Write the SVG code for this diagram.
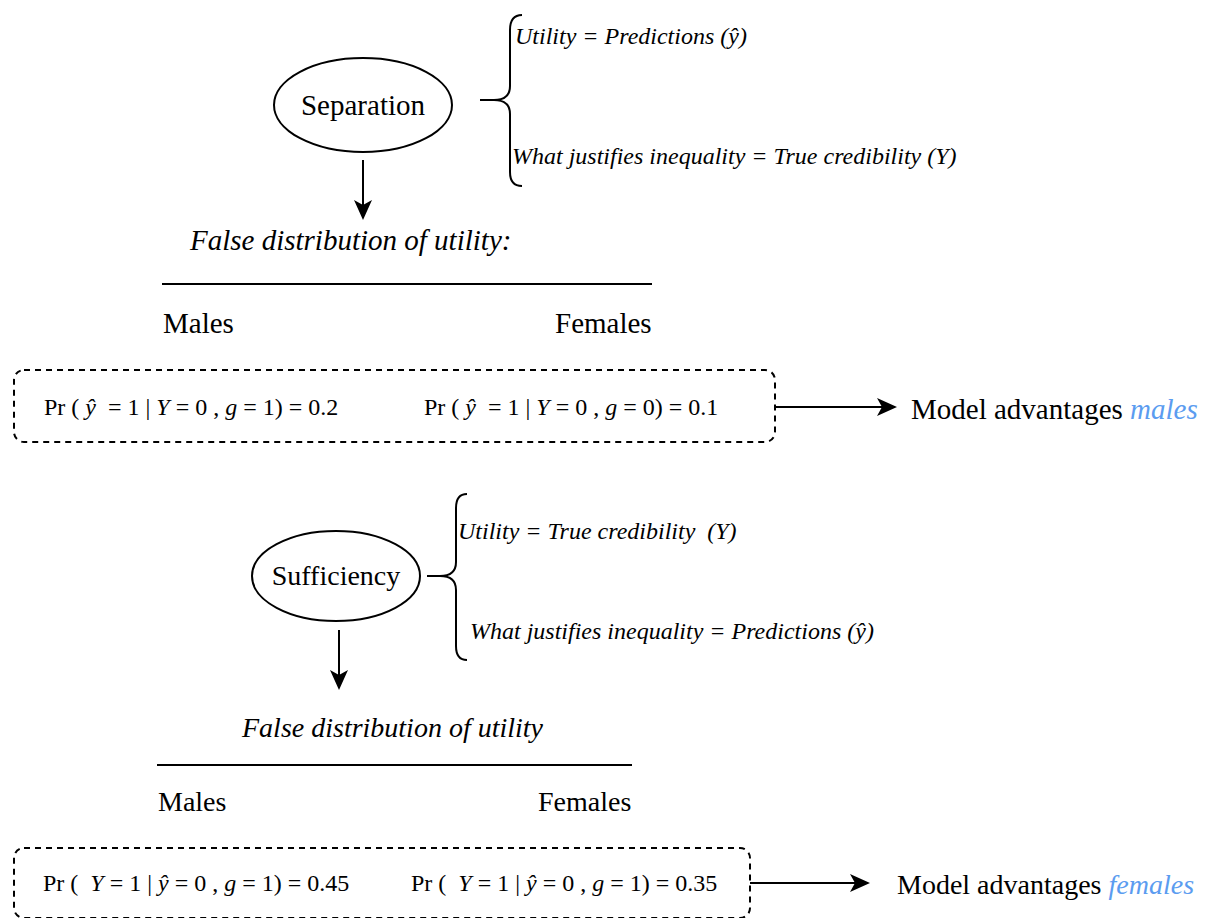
<svg xmlns="http://www.w3.org/2000/svg" width="1205" height="918" viewBox="0 0 1205 918">
  <style>
    .serif { font-family: "Liberation Serif", "Times New Roman", serif; fill: #000; white-space: pre; }
    .it { font-style: italic; }
    .node { fill: #fff; stroke: #000; stroke-width: 2; }
    .brace { fill: none; stroke: #000; stroke-width: 2; }
    .rule { stroke: #000; stroke-width: 2; }
    .box { fill: none; stroke: #000; stroke-width: 2; stroke-dasharray: 6 5; }
    .conn { stroke: #000; stroke-width: 2; fill: none; marker-end: url(#arrow); }
    .blue { fill: #5b9cf0; }
  </style>
  <defs>
    <marker id="arrow" viewBox="0 0 10 10" refX="9" refY="5" markerWidth="20" markerHeight="20" markerUnits="userSpaceOnUse" orient="auto">
      <path d="M0,0.5 L10,5 L0,9.5 L2.5,5 z" fill="#000"/>
    </marker>
  </defs>

  <!-- Separation block -->
  <g id="separation">
    <ellipse class="node" cx="363" cy="105" rx="89" ry="47"/>
    <text class="serif" x="363" y="115" font-size="29" text-anchor="middle">Separation</text>
  </g>
  <g id="separation-brace">
    <path class="brace" d="M522,15 Q510,15 510,30 L510,86 Q510,100 494,100 L480,100 M494,100 Q510,100 510,114 L510,172 Q510,186 522,186"/>
    <text class="serif it" x="515" y="44" font-size="24">Utility = Predictions (ŷ)</text>
    <text class="serif it" x="512" y="164" font-size="24">What justifies inequality = True credibility (Y)</text>
  </g>
  <g id="separation-distribution">
    <text class="serif it" x="190" y="250" font-size="29">False distribution of utility:</text>
    <line class="rule" x1="162" y1="284" x2="652" y2="284"/>
    <text class="serif" x="163" y="333" font-size="29">Males</text>
    <text class="serif" x="555" y="333" font-size="29">Females</text>
  </g>
  <g id="separation-box">
    <rect class="box" x="14" y="370" width="761" height="72" rx="10"/>
    <text class="serif" x="44" y="415" font-size="24">Pr ( <tspan class="it">ŷ</tspan>  = 1 | <tspan class="it">Y</tspan> = 0 , <tspan class="it">g</tspan> = 1) = 0.2</text>
    <text class="serif" x="424" y="415" font-size="24">Pr ( <tspan class="it">ŷ</tspan>  = 1 | <tspan class="it">Y</tspan> = 0 , <tspan class="it">g</tspan> = 0) = 0.1</text>
  </g>
  <g id="separation-result">
    <text class="serif" x="911" y="419" font-size="29">Model advantages <tspan class="it blue">males</tspan></text>
  </g>

  <!-- Sufficiency block -->
  <g id="sufficiency">
    <ellipse class="node" cx="336" cy="576" rx="84" ry="45"/>
    <text class="serif" x="336" y="585" font-size="28" text-anchor="middle">Sufficiency</text>
  </g>
  <g id="sufficiency-brace">
    <path class="brace" d="M467,494 Q456,494 456,508 L456,562 Q456,576 440,576 L427,576 M440,576 Q456,576 456,590 L456,646 Q456,660 467,660"/>
    <text class="serif it" x="458" y="539" font-size="24">Utility = True credibility  (Y)</text>
    <text class="serif it" x="470" y="639" font-size="24">What justifies inequality = Predictions (ŷ)</text>
  </g>
  <g id="sufficiency-distribution">
    <text class="serif it" x="242" y="737" font-size="28">False distribution of utility</text>
    <line class="rule" x1="157" y1="765" x2="632" y2="765"/>
    <text class="serif" x="158" y="811" font-size="28">Males</text>
    <text class="serif" x="538" y="811" font-size="28">Females</text>
  </g>
  <g id="sufficiency-box">
    <rect class="box" x="14" y="848" width="736" height="70" rx="10"/>
    <text class="serif" x="43" y="891" font-size="24">Pr (  <tspan class="it">Y</tspan> = 1 | <tspan class="it">ŷ</tspan> = 0 , <tspan class="it">g</tspan> = 1) = 0.45</text>
    <text class="serif" x="411" y="891" font-size="24">Pr (  <tspan class="it">Y</tspan> = 1 | <tspan class="it">ŷ</tspan> = 0 , <tspan class="it">g</tspan> = 1) = 0.35</text>
  </g>
  <g id="sufficiency-result">
    <text class="serif" x="897" y="894" font-size="28">Model advantages <tspan class="it blue">females</tspan></text>
  </g>

  <!-- Connectors -->
  <g id="connectors">
    <line class="conn" x1="363" y1="160" x2="363" y2="218"/>
    <line class="conn" x1="775" y1="407" x2="895" y2="407"/>
    <line class="conn" x1="339" y1="630" x2="339" y2="688"/>
    <line class="conn" x1="750" y1="883" x2="868" y2="883"/>
  </g>
</svg>
